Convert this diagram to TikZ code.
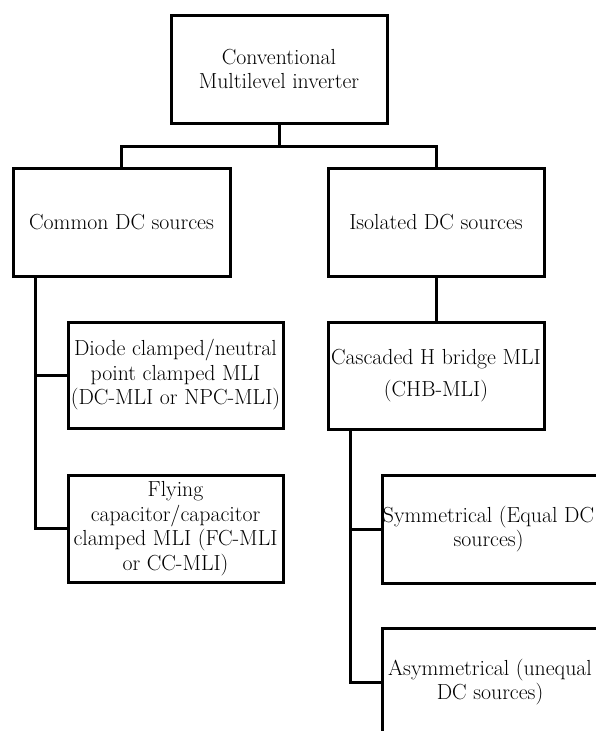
\documentclass[tikz,border=0pt]{standalone}
\begin{document}
\begin{tikzpicture}[x=1pt,y=-1pt,
  box/.style={draw,line width=3pt,rectangle,inner sep=0pt,align=center,
    font=\fontsize{21.8}{24.5}\selectfont,minimum width=216pt,minimum height=108pt},
  lbl/.style={inner sep=0pt,align=center,font=\fontsize{21.8}{24.5}\selectfont},
  conn/.style={line width=3pt,line join=miter}]
\useasboundingbox (0,0) rectangle (596,731);
\clip (0,0) rectangle (596,731);
\fill[white] (0,0) rectangle (596,731);
\node[box] (top) at (279,69) {Conventional\\Multilevel inverter};
\node[box,minimum width=217pt] (common) at (121.5,222) {Common DC sources};
\node[box] (iso) at (436,222) {Isolated DC sources};
\node[box,minimum width=215pt,minimum height=106pt] (diode) at (175.5,375) {Diode clamped/neutral\\point clamped MLI\\(DC-MLI or NPC-MLI)};
\node[box,minimum width=215pt,minimum height=107pt] (flying) at (175.5,528.5) {Flying\\capacitor/capacitor\\clamped MLI (FC-MLI\\or CC-MLI)};
\node[box,minimum height=107pt] (chb) at (436,375.5) {Cascaded H bridge MLI\\[7pt](CHB-MLI)};
\node[box] (symm) at (490,529) {};
\node[lbl] (symmtext) at (488.5,529) {Symmetrical (Equal DC\\sources)};
\node[box] (asym) at (490,682) {Asymmetrical (unequal\\DC sources)};
\coordinate (j) at (279,146);
\coordinate (lx) at (35,0);
\coordinate (rx) at (350,0);
\draw[conn] (top.south) -- (j);
\draw[conn] (j) -| (common.north);
\draw[conn] (j) -| (iso.north);
\draw[conn] (common.south -| lx) |- (flying.west);
\draw[conn] (diode.west) -- (diode.west -| lx);
\draw[conn] (iso.south) -- (chb.north);
\draw[conn] (chb.south -| rx) |- (asym.west);
\draw[conn] (symm.west) -- (symm.west -| rx);
\end{tikzpicture}
\end{document}
